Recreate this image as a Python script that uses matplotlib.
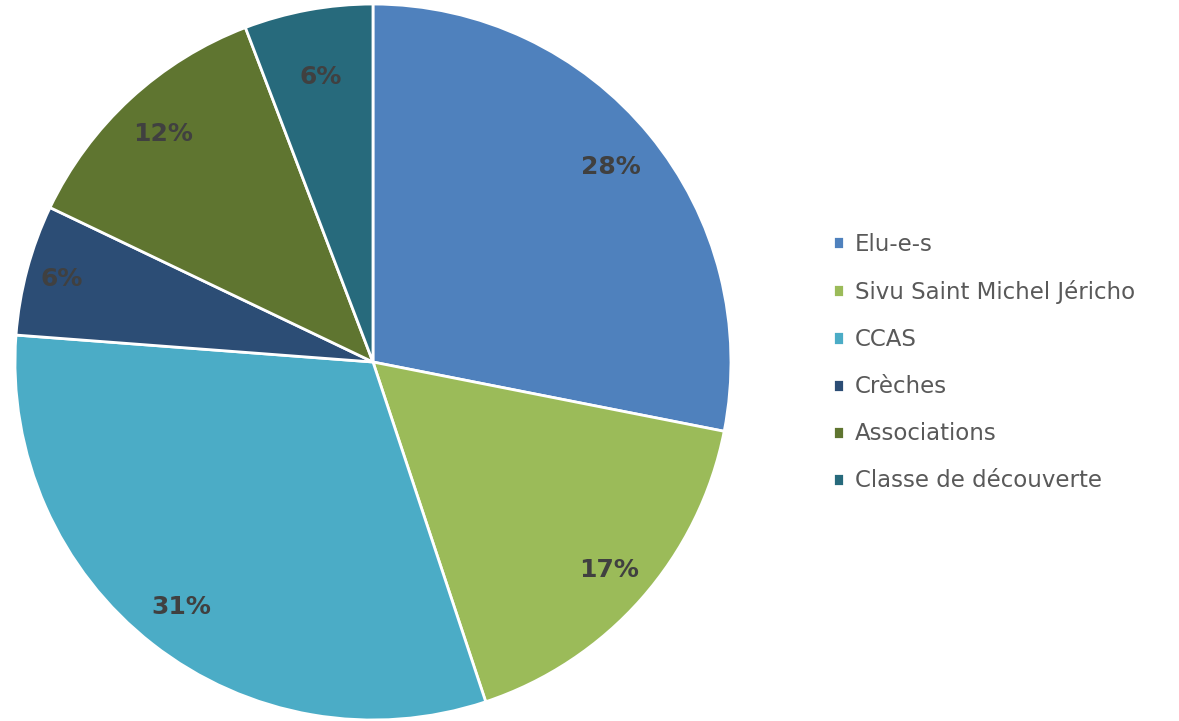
import numpy as np
import matplotlib.pyplot as plt

labels = ["Elu-e-s", "Sivu Saint Michel Jéricho", "CCAS", "Crèches",
          "Associations", "Classe de découverte"]
shares = [28.1, 16.8, 31.3, 5.9, 12.1, 5.8]
colors = ["#4F81BD", "#9BBB59", "#4BACC6", "#2C4D75", "#5F7530", "#276A7C"]
# label distance from centre (fraction of radius), as placed in the original
label_dist = [0.86, 0.88, 0.87, 0.90, 0.865, 0.81]

plt.rcParams['font.family'] = ['DejaVu Sans']

fig = plt.figure(figsize=(11.79, 7.21), dpi=100)
ax = fig.add_axes([0.0127, 0.0014, 0.6073, 0.993])

wedges, texts, pcts = ax.pie(shares, colors=colors, startangle=90, counterclock=False,
                             autopct='%.0f%%', pctdistance=0.87, radius=1,
                             wedgeprops=dict(edgecolor="white", linewidth=2))
for w, t, d in zip(wedges, pcts, label_dist):
    mid = np.deg2rad((w.theta1 + w.theta2) / 2)
    t.set_position((d * np.cos(mid), d * np.sin(mid)))
    t.set_fontsize(18)
    t.set_fontweight("bold")
    t.set_color("#404040")
ax.set_xlim(-1, 1)
ax.set_ylim(-1, 1)
ax.set_aspect("equal")

leg = fig.legend(wedges, labels, loc="center left", bbox_to_anchor=(0.689, 0.497),
                 frameon=False, fontsize=16.5, handlelength=0.5, handleheight=0.5,
                 handletextpad=0.45, labelspacing=1.05, labelcolor="#595959")

fig.savefig("out.png", dpi=100)
